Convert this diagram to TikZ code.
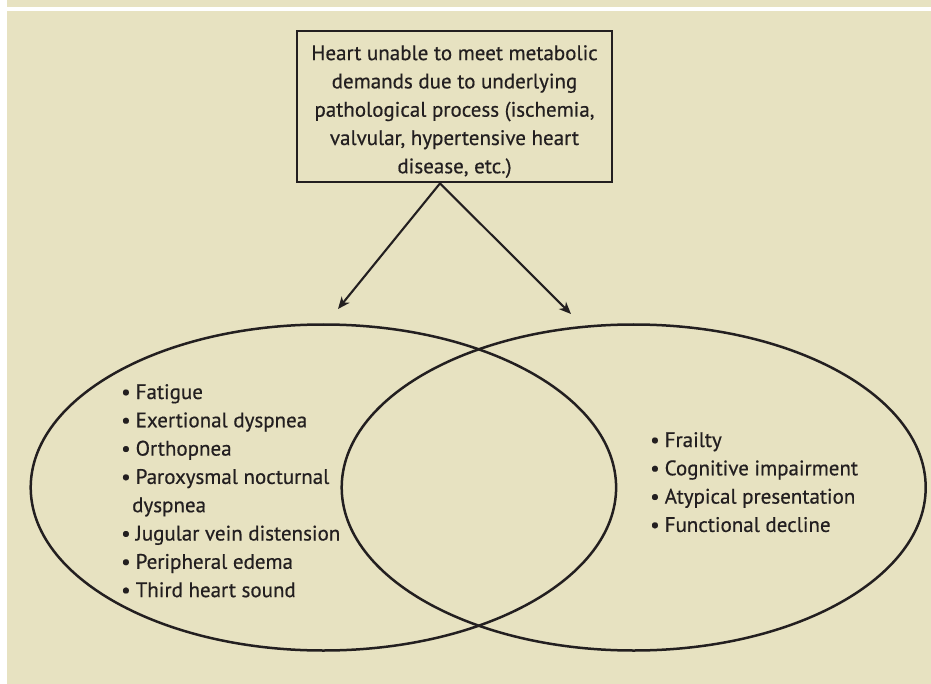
\documentclass[tikz,border=0pt]{standalone}
\usepackage{fontspec}
\setmainfont{PT Sans}[FakeBold=0.5]
\usetikzlibrary{shapes.geometric,arrows.meta}
\definecolor{bg}{RGB}{231,226,193}
\definecolor{ink}{RGB}{35,31,32}
\newcommand{\bul}{\makebox[12.5pt][l]{\kern-2pt•}}
\begin{document}
\begin{tikzpicture}[x=1pt,y=-1pt,
  txt/.style={font=\fontsize{21}{28.3}\selectfont, text=ink},
  topbox/.style={txt, draw=ink, line width=2.8pt, minimum width=315pt, minimum height=151pt, inner sep=0pt, align=center},
  venn/.style={draw=ink, line width=2.5pt, ellipse, inner sep=0pt},
  arr/.style={draw=ink, line width=2.1pt, -{Stealth[length=12pt,width=10pt,inset=3.5pt]}},
  listnode/.style={txt, anchor=base west, inner sep=0pt}]
\useasboundingbox (0,0) rectangle (931,684);
\fill[bg] (0,0) rectangle (931,684);
\fill[white] (0,0) rectangle (7,684);
\fill[white] (7,7.5) rectangle (931,11.5);

\node[topbox] (box) at (454.5,106.5) {\rule{0pt}{25pt}Heart unable to meet metabolic\\demands due to underlying\\pathological process (ischemia,\\valvular, hypertensive heart\\disease, etc.)};

\node[venn, minimum width=585.4pt, minimum height=326pt] (L) at (323.4,487.5) {};
\node[venn, minimum width=584pt, minimum height=326pt] (R) at (633.7,487.5) {};

\coordinate (src) at ([xshift=-14.5pt]box.south);
\coordinate (tipL) at (338,309);
\coordinate (tipR) at (571,314);
\draw[arr] (src) -- (tipL);
\draw[arr] (src) -- (tipR);

\node[listnode] (llist) at (123,399) {\begin{tabular}[t]{@{}l@{}}
\bul Fatigue\\
\bul Exertional dyspnea\\
\bul Orthopnea\\
\bul Paroxysmal nocturnal\\
\hspace{9pt}dyspnea\\
\bul Jugular vein distension\\
\bul Peripheral edema\\
\bul Third heart sound
\end{tabular}};

\node[listnode] (rlist) at (652,447) {\begin{tabular}[t]{@{}l@{}}
\bul Frailty\\
\bul Cognitive impairment\\
\bul Atypical presentation\\
\bul Functional decline
\end{tabular}};
\end{tikzpicture}
\end{document}
